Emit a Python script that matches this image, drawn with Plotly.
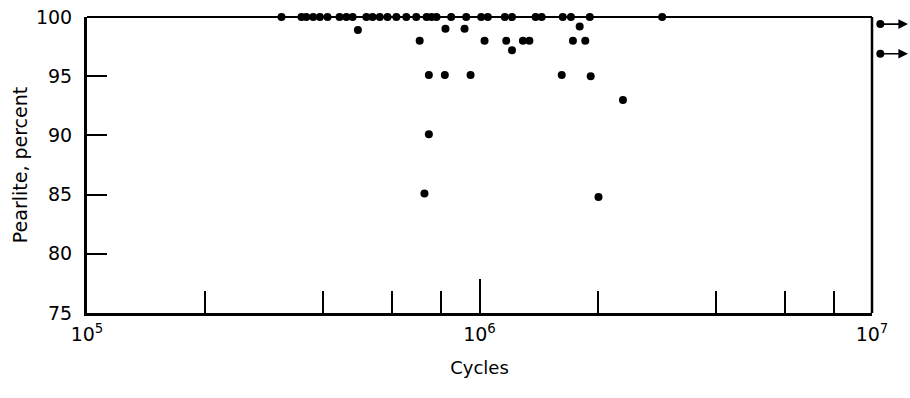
import math
import plotly.graph_objects as go

# ---- data ----
cycles = [3.13e5, 3.52e5, 3.62e5, 3.77e5, 3.92e5, 4.10e5, 4.40e5, 4.58e5, 4.75e5,
          5.15e5, 5.34e5, 5.57e5, 5.83e5, 6.14e5, 6.51e5, 6.90e5, 7.33e5, 7.55e5,
          7.77e5, 8.47e5, 9.25e5, 1.01e6, 1.05e6, 1.16e6, 1.21e6, 1.39e6, 1.44e6,
          1.63e6, 1.71e6, 1.91e6, 2.92e6,
          4.90e5, 7.04e5, 8.19e5, 9.16e5, 1.03e6, 1.17e6, 1.21e6, 1.29e6, 1.34e6,
          1.80e6, 1.73e6, 1.86e6,
          7.43e5, 8.16e5, 9.49e5, 1.62e6, 1.92e6,
          7.43e5, 7.24e5, 2.01e6, 2.32e6]
pearlite = [100] * 31 + [
          98.9, 98.0, 99.0, 99.0, 98.0, 98.0, 97.2, 98.0, 98.0,
          99.2, 98.0, 98.0,
          95.1, 95.1, 95.1, 95.1, 95.0,
          90.1, 85.1, 84.8, 93.0]

# run-outs (did not fail, beyond 10^7 cycles)
runout_cycles = [1.05e7, 1.05e7]
runout_pearlite = [99.4, 96.9]
runout_arrow_end = 1.235e7

y_ticks = [75, 80, 85, 90, 95, 100]
x_major = [1e5, 1e6, 1e7]
x_major_text = ["10<sup>5</sup>", "10<sup>6</sup>", "10<sup>7</sup>"]
x_minor = [2e5, 4e5, 6e5, 8e5, 2e6, 4e6, 6e6, 8e6]

FONT = "DejaVu Sans"

# layout geometry (pixels)
W, H = 910, 398
ML, MR, MT, MB = 87, 0, 17, 85
PLOT_W = 785            # width of the framed plot (10^5 .. 10^7)
dom_end = PLOT_W / (W - ML - MR)
x2_range = [5, 5 + 2 / dom_end]

fig = go.Figure()
fig.add_trace(go.Scatter(
    x=cycles, y=pearlite, mode="markers",
    marker=dict(color="black", size=8),
    cliponaxis=False, showlegend=False,
))
fig.add_trace(go.Scatter(
    x=runout_cycles, y=runout_pearlite, mode="markers", xaxis="x2", yaxis="y",
    marker=dict(color="black", size=8),
    cliponaxis=False, showlegend=False,
))
for cx, py in zip(runout_cycles, runout_pearlite):
    fig.add_annotation(
        x=math.log10(runout_arrow_end), y=py, ax=math.log10(cx), ay=py,
        xref="x2", yref="y", axref="x2", ayref="y",
        text="", showarrow=True, arrowhead=2, arrowsize=1.2,
        arrowwidth=1.6, arrowcolor="black",
    )

fig.update_layout(
    xaxis=dict(
        type="log", range=[5, 7], domain=[0, dom_end], automargin=False,
        tickvals=x_major, ticktext=x_major_text,
        ticks="inside", ticklen=34, tickwidth=1.5, tickcolor="black",
        minor=dict(tickvals=x_minor, ticks="inside", ticklen=22,
                   tickwidth=1.5, tickcolor="black"),
        showline=True, linecolor="black", linewidth=3,
        showgrid=False, zeroline=False, ticklabelstandoff=2,
        ticklabeloverflow="allow",
        tickfont=dict(family=FONT, size=19, color="black"),
        title=dict(text="Cycles", font=dict(family=FONT, size=18, color="black"),
                   standoff=18),
    ),
    xaxis2=dict(
        type="log", range=x2_range, domain=[0, 1],
        anchor="y", visible=False, showgrid=False, zeroline=False,
    ),
    yaxis=dict(
        range=[75, 100], tickvals=y_ticks, automargin=False,
        ticks="inside", ticklen=20, tickwidth=1.5, tickcolor="black",
        showline=True, linecolor="black", linewidth=3,
        showgrid=False, zeroline=False, ticklabelstandoff=8,
        ticklabeloverflow="allow",
        tickfont=dict(family=FONT, size=19, color="black"),
        title=dict(text="Pearlite, percent",
                   font=dict(family=FONT, size=19, color="black"), standoff=4),
    ),
    width=W, height=H,
    margin=dict(l=ML, r=MR, t=MT, b=MB, autoexpand=False),
    paper_bgcolor="white", plot_bgcolor="rgba(0,0,0,0)",
    font=dict(family=FONT, color="black"),
)

# top and right frame lines of the plot box
fig.add_shape(type="line", xref="paper", yref="paper", x0=0, x1=dom_end, y0=1, y1=1,
              line=dict(color="black", width=2), layer="below")
fig.add_shape(type="line", xref="paper", yref="paper", x0=dom_end, x1=dom_end, y0=0, y1=1,
              line=dict(color="black", width=2.5), layer="below")

fig.write_html("out.html",
               config={"displayModeBar": False},
               post_script="document.body.style.margin='0';")
